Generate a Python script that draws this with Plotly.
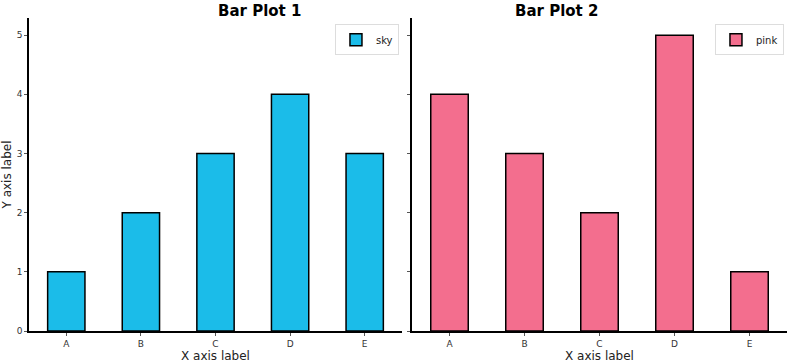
import plotly.graph_objects as go

categories = ["A", "B", "C", "D", "E"]
sky_values = [1, 2, 3, 4, 3]
pink_values = [4, 3, 2, 5, 1]
y_ticks = [0, 1, 2, 3, 4, 5]

SKY = "#1BBCE9"
PINK = "#F36E8E"
FONT = "DejaVu Sans"

fig = go.Figure()
fig.add_trace(go.Bar(x=categories, y=sky_values, name="sky", width=0.5,
                     marker=dict(color=SKY, line=dict(color="black", width=1.5)),
                     xaxis="x", yaxis="y", legend="legend"))
fig.add_trace(go.Bar(x=categories, y=pink_values, name="pink", width=0.5,
                     marker=dict(color=PINK, line=dict(color="black", width=1.5)),
                     xaxis="x2", yaxis="y2", legend="legend2"))

H = 364
W = 790
ML, MR, MT, MB = 29, 3, 18, 33
PW = W - ML - MR
d1 = [0, (402 - ML) / PW]
d2 = [(412 - ML) / PW, 1]

axcommon = dict(showgrid=False, zeroline=False, showline=True, linecolor="black",
                linewidth=1.5, ticks="outside", ticklen=3, tickwidth=1, tickcolor="#555",
                automargin=False,
                tickfont=dict(family=FONT, size=9, color="#333"))

legcommon = dict(xref="paper", yref="paper", xanchor="right", y=0.98, yanchor="top",
                 bgcolor="white", bordercolor="#ddd", borderwidth=1, itemwidth=30,
                 tracegroupgap=0, font=dict(family=FONT, size=10, color="#222"))

fig.update_layout(
    template="none",
    width=W, height=H,
    margin=dict(l=ML, r=MR, t=MT, b=MB),
    plot_bgcolor="white", paper_bgcolor="white",
    font=dict(family=FONT, color="#222"),
    xaxis=dict(domain=d1, anchor="y", range=[-0.5, 4.5], type="category",
               title=dict(text="X axis label", font=dict(size=12, color="#222"), standoff=2), **axcommon),
    yaxis=dict(domain=[0, 1], anchor="x", range=[0, 5.29], tickvals=y_ticks,
               title=dict(text="Y axis label", font=dict(size=12, color="#222"), standoff=3), **axcommon),
    xaxis2=dict(domain=d2, anchor="y2", range=[-0.5, 4.5], type="category",
                title=dict(text="X axis label", font=dict(size=12, color="#222"), standoff=2), **axcommon),
    yaxis2=dict(domain=[0, 1], anchor="x2", range=[0, 5.29], tickvals=y_ticks,
                showticklabels=False, **axcommon),
    legend=dict(x=d1[1] - 0.004, **legcommon),
    legend2=dict(x=d2[1] - 0.004, **legcommon),
    showlegend=True,
    annotations=[
        dict(text="<b>Bar Plot 1</b>", x=(d1[0] + d1[1]) / 2, y=1 + 7 / (H - MT - MB), xref="paper", yref="paper",
             showarrow=False, font=dict(family=FONT, size=15, color="black"), yanchor="middle"),
        dict(text="<b>Bar Plot 2</b>", x=(d2[0] + d2[1]) / 2, y=1 + 7 / (H - MT - MB), xref="paper", yref="paper",
             showarrow=False, font=dict(family=FONT, size=15, color="black"), yanchor="middle"),
    ],
)

fig.write_html("out.html", config={"displayModeBar": False},
               post_script="document.body.style.margin='0';document.body.style.overflow='hidden';")
